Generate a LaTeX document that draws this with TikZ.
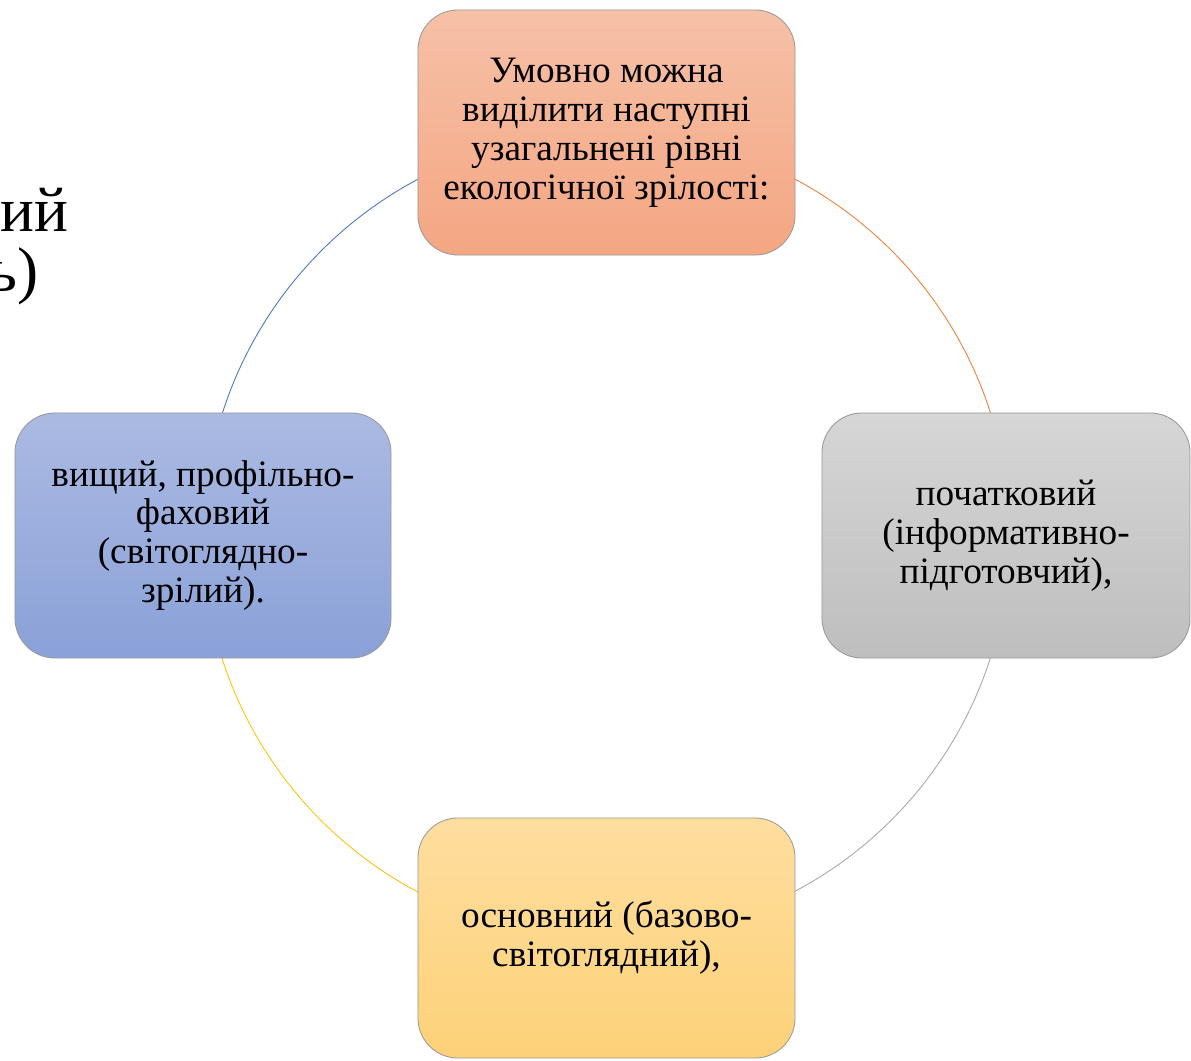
\documentclass[tikz,border=0pt]{standalone}
\usepackage{fontspec}
\setmainfont{Liberation Serif}
\usepackage{tikz}
\usetikzlibrary{backgrounds}

\definecolor{peachTop}{HTML}{F6C1A8}
\definecolor{peachBot}{HTML}{F4A682}
\definecolor{greyTop}{HTML}{D6D6D6}
\definecolor{greyBot}{HTML}{BEBEBE}
\definecolor{blueTop}{HTML}{ABBAE2}
\definecolor{blueBot}{HTML}{8AA1D8}
\definecolor{goldTop}{HTML}{FEDE9F}
\definecolor{goldBot}{HTML}{FDD178}
\definecolor{blueLine}{HTML}{4472C4}
\definecolor{orangeLine}{HTML}{ED7D31}
\definecolor{greyLine}{HTML}{A5A5A5}
\definecolor{goldLine}{HTML}{FFC000}

\begin{document}
\begin{tikzpicture}[x=0.025cm, y=0.025cm,
    level/.style={rectangle, rounded corners=1cm, draw=black!40, line width=0.6pt,
        minimum width=9.425cm, minimum height=6.125cm, align=center,
        font=\fontsize{26.5}{27.7}\selectfont},
    link/.style={line width=0.6pt}]
            \useasboundingbox (0, 0) rectangle (1191, 1060);

            \node[anchor=base east, inner sep=0, font=\fontsize{45}{42}\selectfont] at (69, 828) (title1) {ний};
            \node[anchor=base east, inner sep=0, font=\fontsize{45}{42}\selectfont] at (39, 768) (title2) {ь)};

            \coordinate (hub) at (606.5, 524.5);
            \node[level, top color=peachTop, bottom color=peachBot] at (606.5, 927.5) (umovno) {Умовно можна\\виділити наступні\\узагальнені рівні\\екологічної зрілості:};
            \node[level, top color=greyTop, bottom color=greyBot, minimum width=9.2cm] at (1006, 524.5) (pochat) {початковий\\(інформативно-\\підготовчий),};
            \node[level, top color=goldTop, bottom color=goldBot, minimum height=6cm] at (606.5, 122) (osnov) {основний (базово-\\світоглядний),};
            \node[level, top color=blueTop, bottom color=blueBot, minimum width=9.4cm] at (203, 524.5) (vyshch) {вищий, профільно-\\фаховий\\(світоглядно-\\зрілий).};

            \begin{scope}[on background layer]
            \draw [link, orangeLine] (umovno.center) arc[start angle=90, end angle=0, radius=403];
            \draw [link, greyLine] (osnov.center) arc[start angle=270, end angle=360, radius=403];
            \draw [link, goldLine] (vyshch.center) arc[start angle=180, end angle=270, radius=403];
            \draw [link, blueLine] (umovno.center) arc[start angle=90, end angle=180, radius=403];
            \end{scope}
        \end{tikzpicture}
\end{document}
